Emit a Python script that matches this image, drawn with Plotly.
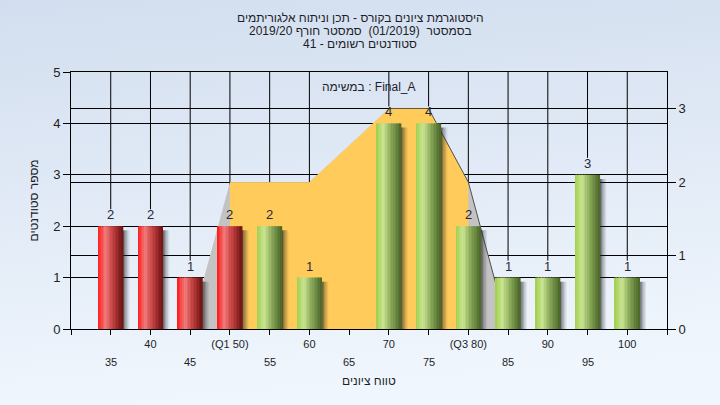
import base64
import plotly.graph_objects as go

# ---------------- data ----------------
bins = [35, 40, 45, 50, 55, 60, 65, 70, 75, 80, 85, 90, 95, 100]
counts = [2, 2, 1, 2, 2, 1, 0, 4, 4, 2, 1, 1, 3, 1]
pass_grade = 55
n_registered = 41

x_ticks = [30, 35, 40, 45, 50, 55, 60, 65, 70, 75, 80, 85, 90, 95, 100, 105]
x_tick_labels = ["", "35", "40", "45", "(Q1 50)", "55", "60", "65", "70",
                 "75", "(Q3 80)", "85", "90", "95", "100", ""]

# box-like spread shape (right axis)
spread_x = [45, 50, 55, 60, 70, 75, 80, 85]
spread_y = [0, 2, 2, 2, 3, 3, 2, 0]
iqr_x = [50, 55, 60, 70, 75, 80]
iqr_y = [2, 2, 2, 3, 3, 2]
tail_x = [75, 80, 85]
tail_y = [3, 2, 0]

title_lines = [
    "היסטוגרמת ציונים בקורס - תכן וניתוח אלגוריתמים",
    "בסמסטר  (01/2019)  סמסטר חורף 2019/20",
    "סטודנטים רשומים - %d" % n_registered,
]
task_label = "במשימה : Final_A"
x_title = "טווח ציונים"
y_title = "מספר סטודנטים"

# ---------------- styling helpers ----------------
FONT = "Liberation Sans, Arial, DejaVu Sans, sans-serif"
TXT = "#1e1e28"
BAR_W = 3.1
N_STRIPS = 16
red_stops = [(0.0, (255, 22, 22)), (0.3, (240, 125, 125)), (0.55, (205, 72, 72)), (1.0, (112, 18, 18))]
green_stops = [(0.0, (160, 206, 78)), (0.3, (202, 228, 146)), (0.6, (138, 170, 90)), (1.0, (74, 102, 40))]


def grad(stops, t):
    for (t0, c0), (t1, c1) in zip(stops[:-1], stops[1:]):
        if t <= t1:
            f = (t - t0) / (t1 - t0)
            return "rgb(%d,%d,%d)" % tuple(round(a + (b - a) * f) for a, b in zip(c0, c1))
    return "rgb(%d,%d,%d)" % stops[-1][1]


def px_x(px):
    return (px - 71) / 596


fig = go.Figure()

# spread area (main y = right axis)
fig.add_trace(go.Scatter(x=spread_x, y=spread_y, mode="lines", fill="tozeroy",
                         fillcolor="#C3C3C3", line=dict(width=0, color="#C3C3C3"),
                         hoverinfo="skip", showlegend=False, yaxis="y"))
fig.add_trace(go.Scatter(x=iqr_x, y=iqr_y, mode="lines", fill="tozeroy",
                         fillcolor="#FFCB5A", line=dict(width=0, color="#FFCB5A"),
                         hoverinfo="skip", showlegend=False, yaxis="y"))
fig.add_trace(go.Scatter(x=tail_x, y=tail_y, mode="lines",
                         line=dict(width=1, color="#505050"),
                         hoverinfo="skip", showlegend=False, yaxis="y"))

# bar shadows
shadow_alphas = [0.72, 0.52, 0.34, 0.2, 0.09]
sw = 0.17
for j, a in enumerate(shadow_alphas):
    fig.add_trace(go.Bar(x=bins, y=counts, base=-0.08, width=sw,
                         offset=BAR_W / 2 - 0.04 + j * sw,
                         marker=dict(color="rgba(35,35,35,%.2f)" % a, line=dict(width=0)),
                         cliponaxis=False, hoverinfo="skip", showlegend=False, yaxis="y2"))

# cylinder-like bars from strips
strip_w = BAR_W / N_STRIPS
for k in range(N_STRIPS):
    t = (k + 0.5) / N_STRIPS
    cols = [grad(red_stops if b < pass_grade else green_stops, t) for b in bins]
    fig.add_trace(go.Bar(x=bins, y=counts, width=strip_w + 0.03,
                         offset=-BAR_W / 2 + k * strip_w,
                         marker=dict(color=cols, line=dict(width=0)),
                         hoverinfo="skip", showlegend=False, yaxis="y2"))

annotations = []
shapes = []
for b, c in zip(bins, counts):
    if c > 0:
        annotations.append(dict(x=b, y=c, xref="x", yref="y2", text=str(c), showarrow=False,
                                yanchor="bottom", yshift=2, font=dict(size=13, color="#26283a", family=FONT)))
        shapes.append(dict(type="line", xref="x", yref="y2", x0=b, x1=b, y0=c + 0.33, y1=5,
                           line=dict(color="black", width=1), layer="below"))

# second row of x tick labels
row1 = []
for v, lab in zip(x_ticks, x_tick_labels):
    if v % 10 == 0:
        row1.append(lab)
    else:
        row1.append("")
        if lab:
            annotations.append(dict(x=v, y=0, xref="x", yref="paper", text=lab, showarrow=False,
                                    yanchor="top", yshift=-25, font=dict(size=11, color=TXT, family=FONT)))

# titles
tfont = dict(size=12, color=TXT, family=FONT)
for i, line in enumerate(title_lines):
    annotations.append(dict(x=px_x(360), y=1, xref="paper", yref="paper", text=line,
                            showarrow=False, yanchor="middle", yshift=72 - (18 + 13 * i), font=tfont))
annotations.append(dict(x=0.5, y=1, xref="paper", yref="paper", text=task_label, showarrow=False,
                        yanchor="middle", yshift=-15, font=tfont))
annotations.append(dict(x=0.5, y=0, xref="paper", yref="paper", text=x_title, showarrow=False,
                        yanchor="middle", yshift=-52, font=tfont))
annotations.append(dict(x=0, y=0.5, xref="paper", yref="paper", text=y_title, showarrow=False,
                        xanchor="center", xshift=-38, textangle=-90, font=tfont))

svg = ('<svg xmlns="http://www.w3.org/2000/svg" width="720" height="405" preserveAspectRatio="none">'
       '<defs><linearGradient id="g" x1="0" y1="0" x2="0.15" y2="1">'
       '<stop offset="0" stop-color="#D2DEEF"/><stop offset="1" stop-color="#F0F6FD"/>'
       '</linearGradient></defs><rect width="720" height="405" fill="url(#g)"/></svg>')
bg_src = "data:image/svg+xml;base64," + base64.b64encode(svg.encode()).decode()

axis_font = dict(size=13, color="#222", family=FONT)
fig.update_layout(
    width=720, height=405,
    margin=dict(l=71, r=53, t=72, b=76),
    paper_bgcolor="#E2EAF6", plot_bgcolor="#B4B4B4",
    barmode="overlay", showlegend=False,
    font=dict(family=FONT, color=TXT),
    xaxis=dict(range=[30, 105], tickvals=x_ticks, ticktext=row1, ticks="outside", ticklen=5,
               tickcolor="black", showline=True, linecolor="black", mirror=True,
               showgrid=False, zeroline=False, tickfont=dict(size=11, color=TXT, family=FONT)),
    yaxis=dict(side="right", range=[0, 3.5], tick0=0, dtick=1, ticks="outside", ticklen=8,
               tickcolor="black", showline=True, linecolor="black", showgrid=True,
               gridcolor="black", gridwidth=1, zeroline=False, tickfont=axis_font),
    yaxis2=dict(overlaying="y", side="left", range=[0, 5], tick0=0, dtick=1, ticks="outside",
                ticklen=7, tickcolor="black", showline=True, linecolor="black", showgrid=True,
                gridcolor="black", gridwidth=1, zeroline=False, tickfont=axis_font),
    annotations=annotations,
    shapes=shapes,
    images=[dict(source=bg_src, xref="paper", yref="paper", x=-71 / 596, y=1 + 72 / 257,
                 sizex=720 / 596, sizey=405 / 257, xanchor="left", yanchor="top",
                 sizing="stretch", layer="below")],
)

fig.write_html("out.html", config={"displayModeBar": False},
               post_script="document.body.style.margin='0';document.body.style.background='#D2DEEF';")
